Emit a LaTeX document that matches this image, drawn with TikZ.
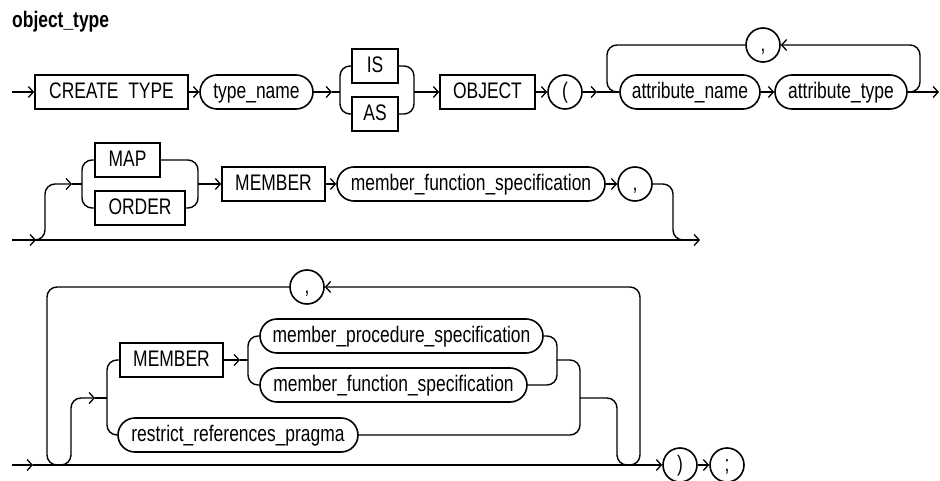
\documentclass[tikz,border=0pt]{standalone}
\usepackage{fontspec}
\setmainfont{Liberation Sans}[FakeStretch=0.775]
\usetikzlibrary{arrows.meta,shapes.misc}
\begin{document}
\begin{tikzpicture}[x=1pt,y=-1pt,
  every node/.style={font=\fontsize{22.5}{26}\selectfont, inner sep=0pt, text height=16.5pt, text depth=3.5pt},
  kw/.style={draw, line width=1.6pt, rectangle, minimum height=34pt},
  nt/.style={draw, line width=1.6pt, rounded rectangle, minimum height=34pt},
  ch/.style={draw, line width=1.6pt, circle, minimum size=34pt},
  ln/.style={line width=1.4pt, rounded corners=10pt},
  arr/.style={line width=1.4pt, -{Straight Barb[length=5pt,width=11pt,line width=1.3pt]}},
  rarr/.style={line width=1.4pt, rounded corners=10pt, -{Straight Barb[length=5pt,width=11pt,line width=1.3pt]}}
]
\useasboundingbox (0,0) rectangle (940,481);

\node[anchor=west, font=\bfseries\fontsize{22.5}{26}\selectfont] (title) at (12,21) {object\_type};

% ---------- Row 1 ----------
\coordinate (s1) at (12,92);
\node[kw, minimum width=153pt] (ct) at (111.5,92) {CREATE\ \ TYPE};
\node[nt, minimum width=113pt] (tn) at (256.5,92) {type\_name};
\node[kw, minimum width=46pt] (is) at (375,66) {IS};
\node[kw, minimum width=46pt] (as) at (375,114) {AS};
\node[kw, minimum width=95pt] (ob) at (487.5,92) {OBJECT};
\node[ch] (lp) at (565,92) {(};
\node[nt, minimum width=140pt] (an) at (690,92) {attribute\_name};
\node[nt, minimum width=132pt] (at) at (841,92) {attribute\_type};
\node[ch] (c1) at (763,45) {,};
\coordinate (f1a) at (332,92);
\coordinate (f1) at (340,92);
\coordinate (j1) at (414,92);
\coordinate (a1) at (597,92);
\coordinate (l1) at (607,92);
\coordinate (r1) at (920,45);
\coordinate (e1) at (939,92);

\draw[arr] (s1) -- (ct);
\draw[arr] (ct) -- (tn);
\draw[arr] (tn.east) -- (f1a);
\draw[ln] (f1a) -- (f1);
\draw[ln] (f1) |- (is.west);
\draw[ln] (f1) |- (as.west);
\draw[ln] (is.east) -| (j1);
\draw[ln] (as.east) -| (j1);
\draw[arr] (j1) -- (ob.west);
\draw[arr] (ob.east) -- (lp.west);
\draw[arr] (lp.east) -- (a1);
\draw[ln] (a1) -- (an.west);
\draw[arr] (an.east) -- (at.west);
\draw[rarr] (at.east) -| (r1) -- (c1.east);
\draw[ln] (c1.west) -| (l1) -- (an.west);
\draw[arr] (at.east) -- (e1);

% ---------- Row 2 ----------
\coordinate (s2) at (12,240);
\coordinate (s2a) at (36,240);
\coordinate (e2) at (700,240);
\coordinate (u2) at (45,184);
\coordinate (u2a) at (72,184);
\coordinate (f2) at (82,184);
\coordinate (j2) at (198,184);
\coordinate (d2) at (673,240);
\node[kw, minimum width=65pt] (map) at (127.5,160) {MAP};
\node[kw, minimum width=90pt] (ord) at (140,208) {ORDER};
\node[kw, minimum width=103pt] (mem) at (273.5,184) {MEMBER};
\node[nt, minimum width=268pt] (mfs) at (471,184) {member\_function\_specification};
\node[ch] (c2) at (635,184) {,};

\draw[arr] (s2) -- (s2a);
\draw[arr] (s2a) -- (e2);
\draw[rarr] (30,240) -| (u2) -- (u2a);
\draw[ln] (u2a) -- (f2);
\draw[ln] (f2) |- (map.west);
\draw[ln] (f2) |- (ord.west);
\draw[ln] (map.east) -| (j2);
\draw[ln] (ord.east) -| (j2);
\draw[arr] (j2) -- (mem.west);
\draw[arr] (mem.east) -- (mfs.west);
\draw[arr] (mfs.east) -- (c2.west);
\draw[ln] (c2.east) -| (d2) -- (690,240);

% ---------- Row 3 ----------
\coordinate (s3) at (12,465);
\coordinate (s3a) at (33,465);
\node[ch] (c3) at (307,287) {,};
\node[kw, minimum width=103pt] (mem3) at (171.5,360) {MEMBER};
\node[nt, minimum width=283pt] (mps) at (401.5,336) {member\_procedure\_specification};
\node[nt, minimum width=267pt] (mfs3) at (393.5,385) {member\_function\_specification};
\node[nt, minimum width=240pt] (rrp) at (238,435) {restrict\_references\_pragma};
\node[ch] (rp) at (680,465) {)};
\node[ch] (sc) at (727,465) {;};
\coordinate (lL) at (47,465);
\coordinate (lR) at (640,287);
\coordinate (u3) at (71,398);
\coordinate (u3a) at (95,398);
\coordinate (f3) at (107,398);
\coordinate (m3a) at (240,360);
\coordinate (f3b) at (248,360);
\coordinate (j3a) at (557,360);
\coordinate (j3b) at (580,398);
\coordinate (d3) at (617,465);

\draw[arr] (s3) -- (s3a);
\draw[arr] (s3a) -- (rp.west);
\draw[arr] (rp.east) -- (sc.west);
\draw[rarr] (626,465) -| (lR) -- (c3.east);
\draw[ln] (c3.west) -| (lL) -- (62,465);
\draw[rarr] (56,465) -| (u3) -- (u3a);
\draw[ln] (u3a) -- (f3);
\draw[ln] (f3) |- (mem3.west);
\draw[ln] (f3) |- (rrp.west);
\draw[arr] (mem3.east) -- (m3a);
\draw[ln] (m3a) -- (f3b);
\draw[ln] (f3b) |- (mps.west);
\draw[ln] (f3b) |- (mfs3.west);
\draw[ln] (mps.east) -| (j3a);
\draw[ln] (mfs3.east) -| (j3a);
\draw[ln] (j3a) -| (j3b);
\draw[ln] (rrp.east) -| (j3b);
\draw[ln] (j3b) -| (d3) -- (632,465);
\end{tikzpicture}
\end{document}
